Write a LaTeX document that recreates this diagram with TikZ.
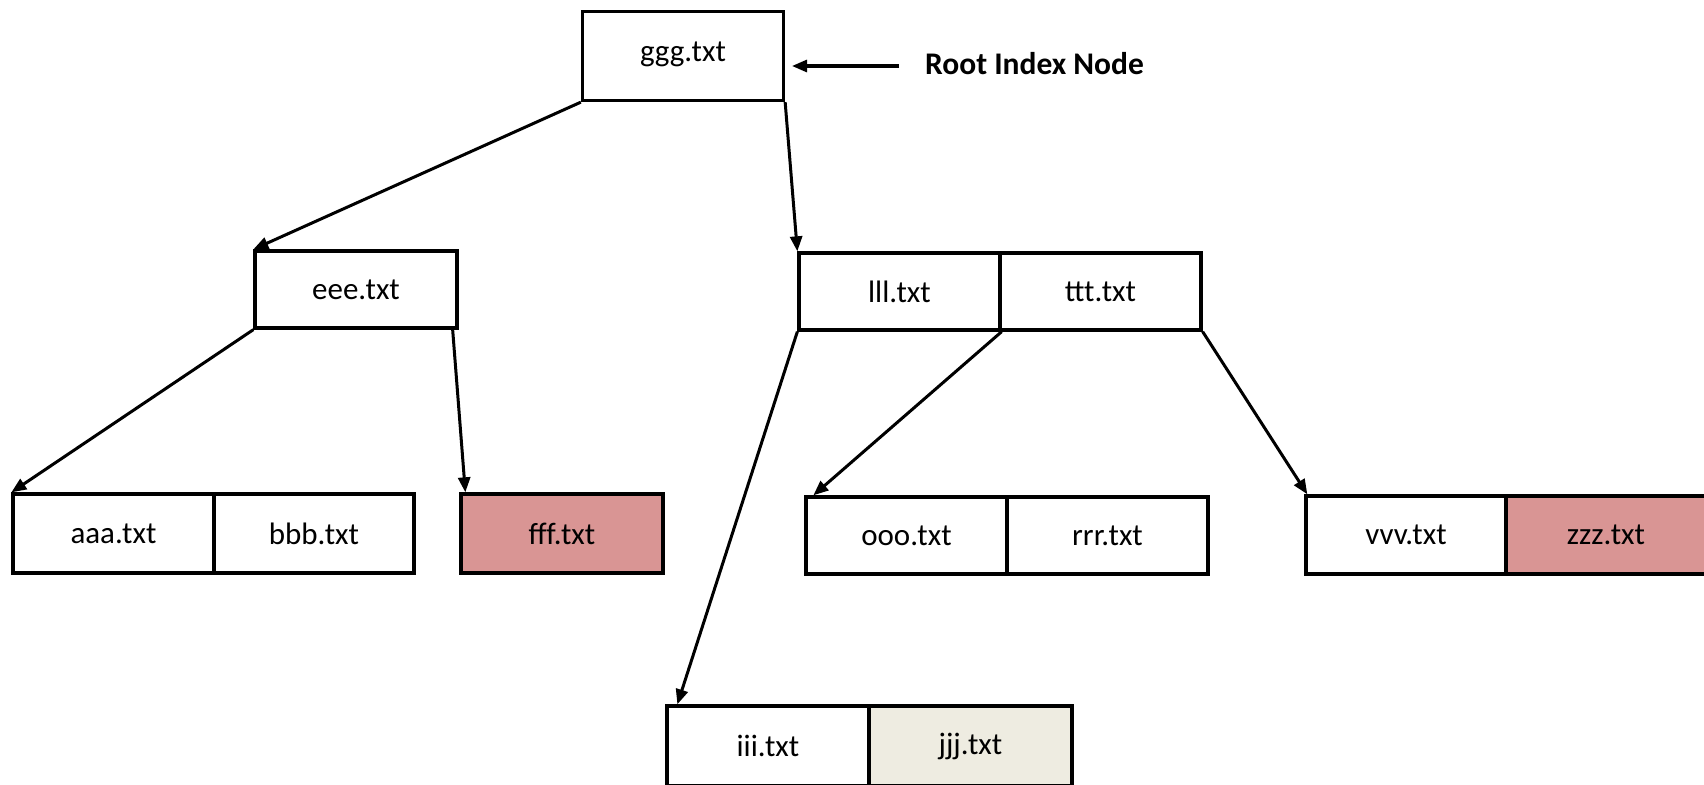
\documentclass[tikz,border=0pt]{standalone}
\usepackage{fontspec}
\setmainfont{Carlito}
\usetikzlibrary{arrows.meta}
\definecolor{pinkfill}{HTML}{D99594}
\definecolor{beigefill}{HTML}{EEECE1}
\tikzset{
  box/.style={draw=black, line width=3.3pt, rectangle, minimum height=77pt, inner sep=0pt,
    font=\fontsize{31}{37}\selectfont},
  arr/.style={line width=3pt, -{Triangle[length=15pt,width=12pt]}},
}
\begin{document}
\begin{tikzpicture}[x=1pt,y=-1pt]
\useasboundingbox (0,0) rectangle (1704,784);
\clip (0,0) rectangle (1704,784);
% boxes
\node[box, minimum width=201pt, minimum height=89pt, text depth=8pt] (root) at (683,56) {ggg.txt};
\node[box, minimum width=202pt] (eee) at (356,289.5) {eee.txt};
\node[box, minimum width=201pt] (lll) at (899.5,291.5) {lll.txt};
\node[box, minimum width=201pt] (ttt) at (1100.5,291.5) {ttt.txt};
\node[box, minimum width=201pt, minimum height=79pt] (aaa) at (113.5,533.5) {aaa.txt};
\node[box, minimum width=200pt, minimum height=79pt] (bbb) at (314,533.5) {bbb.txt};
\node[box, minimum width=202pt, minimum height=79pt, fill=pinkfill] (fff) at (562,533.5) {fff.txt};
\node[box, minimum width=201pt] (ooo) at (906.5,535.5) {ooo.txt};
\node[box, minimum width=201pt] (rrr) at (1107.5,535.5) {rrr.txt};
\node[box, minimum width=200pt, minimum height=78pt] (vvv) at (1406,535) {vvv.txt};
\node[box, minimum width=200pt, minimum height=78pt, fill=pinkfill] (zzz) at (1606,535) {zzz.txt};
\node[box, minimum width=202pt, minimum height=80pt] (iii) at (768,746) {iii.txt};
\node[box, minimum width=203pt, minimum height=80pt, fill=beigefill] (jjj) at (970.5,746) {jjj.txt};
% label
\node[anchor=west, inner sep=0pt, font=\bfseries\fontsize{31.5}{37}\selectfont] (lbl) at (925,64) {Root Index Node};
\coordinate (tail) at (899,66);
\coordinate (tip) at (792,66);
\draw[arr] (tail) -- (tip);
% connectors
\draw[arr] (root.south west) -- (eee.north west);
\draw[arr] (root.south east) -- (lll.north west);
\draw[arr] (eee.south west) -- (aaa.north west);
\draw[arr] ([xshift=-6pt]eee.south east) -- ([xshift=6pt]fff.north west);
\draw[arr] (lll.south west) -- ([xshift=12pt]iii.north west);
\draw[arr] (lll.south east) -- ([xshift=9pt]ooo.north west);
\draw[arr] (ttt.south east) -- ([xshift=3pt]vvv.north west);
\end{tikzpicture}
\end{document}
